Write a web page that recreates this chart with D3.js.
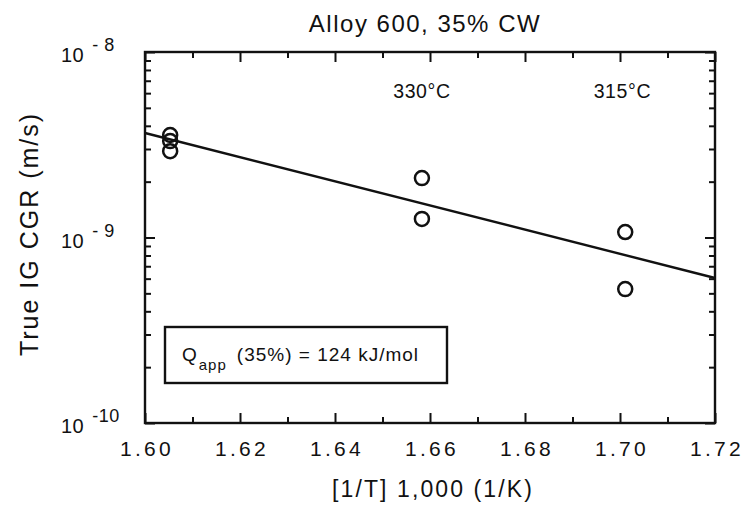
<!DOCTYPE html>
<html>
<head>
<meta charset="utf-8">
<script src="https://cdn.jsdelivr.net/npm/d3@7"></script>
<style>
  body { margin: 0; background: #fff; }
  svg { display: block; }
  text { font-family: "Liberation Sans", Arial, sans-serif; fill: #111; }
</style>
</head>
<body>
<svg id="chart" width="746" height="506"></svg>
<script>
// data
const pointX = [1.6053, 1.6053, 1.6053, 1.6583, 1.6583, 1.7011, 1.7011]
const pointY = [3.57e-9, 3.31e-9, 2.92e-9, 2.09e-9, 1.26e-9, 1.07e-9, 5.27e-10]
const fitX = [1.60, 1.72]
const fitY = [3.66e-9, 6.05e-10]
const xTicks = [1.60, 1.62, 1.64, 1.66, 1.68, 1.70, 1.72]
const xMinor = [1.61, 1.63, 1.65, 1.67, 1.69, 1.71]
const yTicks = [1e-10, 1e-9, 1e-8]
const yTickExp = ["-10", "- 9", "- 8"]
const tempLabels = ["330°C", "315°C"]
const tempX = [1.6583, 1.7005]

const margin = { left: 145, right: 31, top: 52, bottom: 83 }
const width = 746, height = 506

var svg = d3.select("#chart")

var x = d3.scaleLinear().domain([1.60, 1.72]).range([margin.left, width - margin.right])
var y = d3.scaleLog().domain([1e-10, 1e-8]).range([height - margin.bottom, margin.top])

var yMinor = y.ticks().filter(v => yTicks.indexOf(v) < 0)

// inward ticks on all four sides
function tickAxis(axis, values, size, tr) {
    svg.append("g")
        .attr("transform", tr)
        .call(axis.tickValues(values).tickSize(size).tickFormat(""))
        .call(g => g.select(".domain").remove())
        .selectAll("line").attr("stroke", "#111").attr("stroke-width", 2)
}

let atBottom = "translate(0," + (height - margin.bottom) + ")"
let atTop = "translate(0," + margin.top + ")"
let atLeft = "translate(" + margin.left + ",0)"
let atRight = "translate(" + (width - margin.right) + ",0)"

tickAxis(d3.axisBottom(x), xTicks, -10, atBottom)
tickAxis(d3.axisBottom(x), xMinor, -6, atBottom)
tickAxis(d3.axisTop(x), xTicks, -10, atTop)
tickAxis(d3.axisTop(x), xMinor, -6, atTop)
tickAxis(d3.axisLeft(y), yTicks, -10, atLeft)
tickAxis(d3.axisLeft(y), yMinor, -6, atLeft)
tickAxis(d3.axisRight(y), yTicks, -10, atRight)
tickAxis(d3.axisRight(y), yMinor, -6, atRight)

// frame
svg.append("rect")
    .attr("x", x.range()[0]).attr("y", y.range()[1])
    .attr("width", x.range()[1] - x.range()[0])
    .attr("height", y.range()[0] - y.range()[1])
    .attr("fill", "none").attr("stroke", "#111").attr("stroke-width", 2.4)

// x tick labels
svg.append("g").selectAll("text")
    .data(xTicks)
    .enter().append("text")
    .attr("x", d => x(d) + 2)
    .attr("y", 456)
    .attr("text-anchor", "middle")
    .attr("font-size", 21)
    .attr("letter-spacing", 3.3)
    .text(d => d.toFixed(2))

// y tick labels 10^n
var yl = svg.append("g").selectAll("text")
    .data(yTicks)
    .enter().append("text")
    .attr("x", 61)
    .attr("y", d => y(d) + 10)
    .attr("font-size", 20)
    .attr("letter-spacing", 0.5)
yl.append("tspan").text("10")
yl.append("tspan")
    .attr("dx", 8).attr("dy", -11)
    .attr("font-size", 18)
    .attr("letter-spacing", 0.5)
    .text((d, i) => yTickExp[i])

// fit line
svg.append("line")
    .attr("x1", x(fitX[0])).attr("y1", y(fitY[0]))
    .attr("x2", x(fitX[1])).attr("y2", y(fitY[1]))
    .attr("stroke", "#111").attr("stroke-width", 2.4)

// points
svg.append("g").selectAll("circle")
    .data(pointX)
    .enter().append("circle")
    .attr("cx", d => x(d))
    .attr("cy", (d, i) => y(pointY[i]))
    .attr("r", 7)
    .attr("fill", "none")
    .attr("stroke", "#111")
    .attr("stroke-width", 2.5)

// temperature labels
svg.append("g").selectAll("text")
    .data(tempLabels)
    .enter().append("text")
    .attr("x", (d, i) => x(tempX[i]))
    .attr("y", 98)
    .attr("text-anchor", "middle")
    .attr("font-size", 19.5)
    .attr("letter-spacing", 0.6)
    .attr("fill", "#333")
    .text(d => d)

// Q box
svg.append("rect")
    .attr("x", 165).attr("y", 327).attr("width", 282).attr("height", 56)
    .attr("fill", "#fff").attr("stroke", "#111").attr("stroke-width", 2.4)
var q = svg.append("text").attr("x", 182).attr("y", 361).attr("font-size", 19).attr("letter-spacing", 1)
q.append("tspan").text("Q")
q.append("tspan").attr("dy", 9).attr("dx", 1).attr("font-size", 15).text("app")
q.append("tspan").attr("dy", -9).attr("dx", 10).text("(35%) = 124 kJ/mol")

// titles
svg.append("text")
    .attr("x", 425).attr("y", 32)
    .attr("text-anchor", "middle")
    .attr("font-size", 24)
    .attr("letter-spacing", 1.5)
    .text("Alloy 600, 35% CW")

svg.append("text")
    .attr("x", 433).attr("y", 497)
    .attr("text-anchor", "middle")
    .attr("font-size", 23)
    .attr("letter-spacing", 2.1)
    .text("[1/T] 1,000 (1/K)")

svg.append("text")
    .attr("transform", "translate(38,234) rotate(-90)")
    .attr("text-anchor", "middle")
    .attr("font-size", 25)
    .attr("letter-spacing", 2)
    .text("True IG CGR (m/s)")
</script>
</body>
</html>
